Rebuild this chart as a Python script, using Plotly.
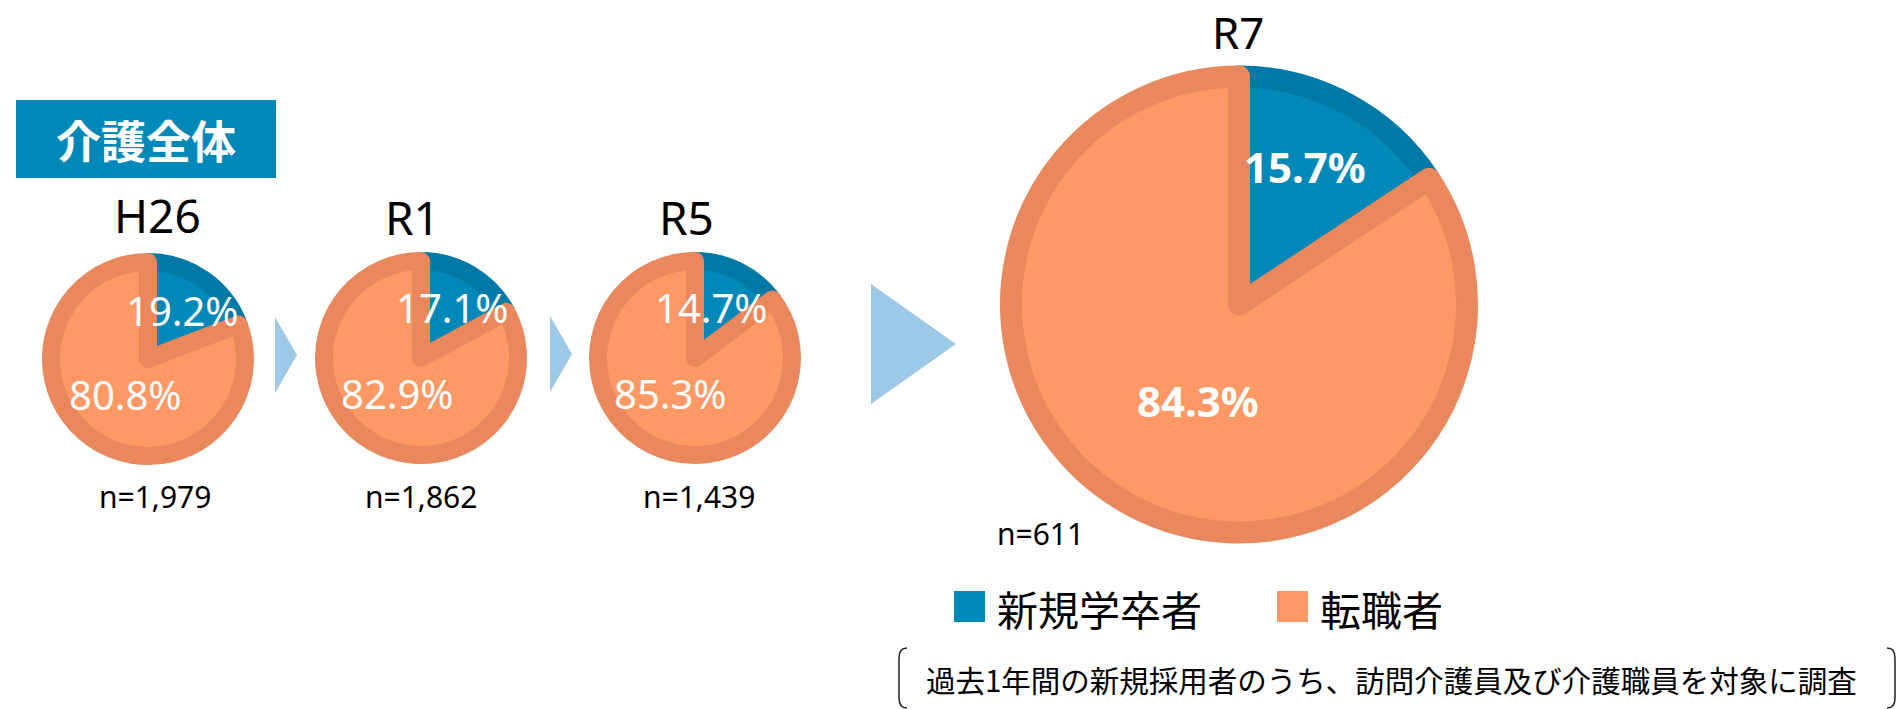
import plotly.graph_objects as go

# ──────────  DATA  ──────────
YEARS      = ["H26", "R1", "R5", "R7"]
NEW_GRAD   = [19.2, 17.1, 14.7, 15.7]     # 新規学卒者 %
CAREER     = [80.8, 82.9, 85.3, 84.3]     # 転職者 %
N_RESP     = [1979, 1862, 1439, 611]
CATEGORIES = ["新規学卒者", "転職者"]
TAG        = "介護全体"
NOTE       = "過去1年間の新規採用者のうち、訪問介護員及び介護職員を対象に調査"

# ──────────  STYLE / LAYOUT  ──────────
W, H = 1898, 709
BLUE, BLUE_DK     = "#0088B9", "#0079A6"
ORANGE, ORANGE_DK = "#FE9865", "#E8885C"
ARROW = "#9DC8E6"
FONT  = "Noto Sans, Noto Sans CJK JP, sans-serif"
CJK   = "Noto Sans CJK JP, sans-serif"

# pie centre (px), outer radius, border band, label offsets
CX   = [148, 421, 695, 1239]
CY   = [359, 358, 358, 304.5]
ROUT = [106, 106, 106, 239]
BAND = [9, 9, 9, 11]
BLUE_OFF   = [(34, -49), (31, -51), (16, -51), (66, -138)]
ORANGE_OFF = [(-23, 35), (-24, 35), (-25, 35), (-41, 96)]
TITLE_POS  = [(157, 215), (412, 217), (686, 217), (1238, 32)]
TITLE_SIZE = [46, 46, 46, 44]
N_POS      = [(155, 496), (421, 496), (699, 496), (1040, 533)]


def px(x):
    return x / W


def py(y):
    return 1 - y / H


fig = go.Figure()
ann = []
shapes = []

for i, yr in enumerate(YEARS):
    r = ROUT[i] - BAND[i]
    big = i == len(YEARS) - 1
    fig.add_trace(go.Pie(
        values=[NEW_GRAD[i], CAREER[i]], labels=CATEGORIES,
        sort=False, direction="clockwise", rotation=0,
        textinfo="none", hoverinfo="label+percent", showlegend=False,
        marker=dict(colors=[BLUE, ORANGE],
                    line=dict(color=[BLUE_DK, ORANGE_DK], width=2 * BAND[i])),
        domain=dict(x=[px(CX[i] - r), px(CX[i] + r)],
                    y=[py(CY[i] + r), py(CY[i] - r)]),
    ))

    lab_font = dict(family=FONT, color="white", size=42 if big else 40,
                    weight="bold" if big else "normal")
    for val, off in ((NEW_GRAD[i], BLUE_OFF[i]), (CAREER[i], ORANGE_OFF[i])):
        ann.append(dict(x=px(CX[i] + off[0]), y=py(CY[i] + off[1]),
                        text=f"{val:.1f}%", showarrow=False,
                        xanchor="center", yanchor="middle", font=lab_font))

    tx, ty = TITLE_POS[i]
    ann.append(dict(x=px(tx), y=py(ty), text=yr, showarrow=False,
                    xanchor="center", yanchor="middle",
                    font=dict(family=FONT, size=TITLE_SIZE[i], color="black")))
    nx, ny = N_POS[i]
    ann.append(dict(x=px(nx), y=py(ny), text=f"n={N_RESP[i]:,}", showarrow=False,
                    xanchor="center", yanchor="middle",
                    font=dict(family=FONT, size=30, color="black")))

# arrows between years
for pts in ([(275, 317), (275, 393), (297, 355)],
            [(550, 316), (550, 392), (572, 354)],
            [(871, 284), (871, 404), (956, 344)]):
    path = "M " + " L ".join(f"{px(a)},{py(b)}" for a, b in pts) + " Z"
    shapes.append(dict(type="path", path=path, xref="paper", yref="paper",
                       fillcolor=ARROW, line=dict(width=0)))

# 介護全体 tag
shapes.append(dict(type="rect", xref="paper", yref="paper",
                   x0=px(16), x1=px(276), y0=py(178), y1=py(100),
                   fillcolor=BLUE, line=dict(width=0)))
ann.append(dict(x=px(146), y=py(139), text=TAG, showarrow=False,
                xanchor="center", yanchor="middle",
                font=dict(family=CJK, size=45, color="white", weight="bold")))

# legend
for col, x0, tx, name in ((BLUE, 954, 995, CATEGORIES[0]), (ORANGE, 1277, 1318, CATEGORIES[1])):
    shapes.append(dict(type="rect", xref="paper", yref="paper",
                       x0=px(x0), x1=px(x0 + 31), y0=py(622), y1=py(591),
                       fillcolor=col, line=dict(width=0)))
    ann.append(dict(x=px(tx), y=py(608), text=name, showarrow=False,
                    xanchor="left", yanchor="middle",
                    font=dict(family=CJK, size=41, color="black")))

# note with brackets
ann.append(dict(x=px(1391), y=py(679), text=NOTE, showarrow=False,
                xanchor="center", yanchor="middle",
                font=dict(family=CJK, size=29.5, color="black")))
lb = f"M {px(907)},{py(648)} Q {px(899)},{py(648)} {px(899)},{py(658)} " \
     f"L {px(899)},{py(698)} Q {px(899)},{py(708)} {px(907)},{py(708)}"
rb = f"M {px(1887)},{py(648)} Q {px(1895)},{py(648)} {px(1895)},{py(658)} " \
     f"L {px(1895)},{py(698)} Q {px(1895)},{py(708)} {px(1887)},{py(708)}"
for p in (lb, rb):
    shapes.append(dict(type="path", path=p, xref="paper", yref="paper",
                       line=dict(color="#222222", width=1.5)))

fig.update_layout(
    width=W, height=H, margin=dict(t=0, r=0, b=0, l=0),
    paper_bgcolor="white", plot_bgcolor="white",
    annotations=ann, shapes=shapes,
)

# drop the browser's default body margin so the figure sits at (0, 0)
fig.write_html("out.html", config={"displayModeBar": False},
               post_script="document.body.style.margin='0';")
